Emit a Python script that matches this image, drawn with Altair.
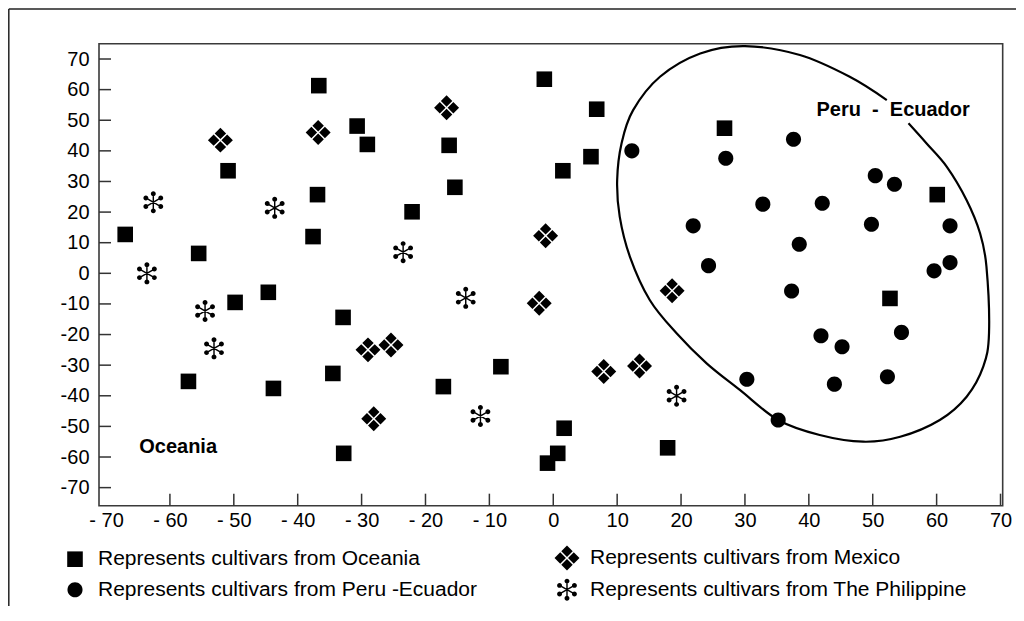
import math
import altair as alt
import pandas as pd

# ---------------- data ----------------
oceania_x = [-67.0, -55.5, -50.9, -49.8, -44.6, -57.1, -43.8, -36.7, -36.9, -37.6, -32.9,
             -34.5, -32.8, -30.7, -29.1, -22.1, -16.3, -15.4, -17.2, -8.2, -1.4, 6.8,
             5.9, 1.5, 1.7, 0.7, -0.9, 17.9, 26.8, 60.1, 52.7]
oceania_y = [12.7, 6.5, 33.5, -9.5, -6.2, -35.3, -37.6, 61.3, 25.7, 12.0, -14.4,
             -32.7, -58.8, 48.1, 42.1, 20.1, 41.8, 28.1, -37.0, -30.5, 63.4, 53.6,
             38.1, 33.5, -50.6, -58.8, -62.0, -57.0, 47.4, 25.7, -8.2]

peru_x = [12.3, 27.0, 37.6, 50.4, 53.4, 32.8, 42.1, 21.9, 49.8, 62.1, 38.5,
          24.3, 62.1, 59.6, 37.3, 41.9, 45.2, 54.5, 30.3, 44.0, 52.3, 35.2]
peru_y = [40.0, 37.6, 43.8, 31.9, 29.1, 22.6, 22.9, 15.5, 16.0, 15.5, 9.5,
          2.5, 3.5, 0.8, -5.8, -20.4, -24.0, -19.3, -34.6, -36.2, -33.8, -47.9]

mexico_x = [-52.1, -36.8, -16.7, -29.0, -25.4, -28.1, -1.2, -2.2, 18.6, 7.9, 13.5]
mexico_y = [43.5, 46.0, 54.1, -25.0, -23.4, -47.5, 12.3, -9.8, -5.7, -32.1, -30.3]

phil_x = [-62.6, -63.6, -54.5, -53.1, -43.6, -23.5, -13.7, -11.4, 19.3]
phil_y = [23.2, 0.0, -12.3, -24.5, 21.4, 6.9, -8.0, -46.6, -40.0]

# hand-drawn loop around the Peru - Ecuador group (open where the label sits)
curve_x = [55.6, 58.4, 61.6, 64.7, 66.8, 67.8, 68.2, 67.3, 64.7, 60.5, 54.3, 48.5,
           41.7, 35.2, 29.2, 24.0, 19.3, 15.1, 12.0, 10.4, 10.0, 10.7, 12.5, 16.7,
           23.0, 30.0, 38.6, 46.4, 52.2]
curve_y = [49.0, 42.5, 34.8, 23.9, 13.1, 2.2, -19.6, -30.5, -40.3, -47.9, -53.4, -55.0,
           -52.8, -47.9, -38.1, -29.4, -19.6, -8.7, 5.4, 18.5, 30.5, 42.6, 53.3, 64.2,
           71.8, 74.2, 71.3, 64.2, 56.6]

group_labels = ["Oceania", "Peru\u00a0 -\u00a0 Ecuador"]
group_label_x = [-64.8, 41.2]
group_label_y = [-56.6, 53.3]

# legend order: column 1 (Oceania, Peru -Ecuador), column 2 (Mexico, The Philippine)
legend_labels = ["Represents cultivars from Oceania",
                 "Represents cultivars from Peru -Ecuador",
                 "Represents cultivars from Mexico",
                 "Represents cultivars from The Philippine"]

x_ticks = [-70, -60, -50, -40, -30, -20, -10, 0, 10, 20, 30, 40, 50, 60, 70]
y_ticks = [-70, -60, -50, -40, -30, -20, -10, 0, 10, 20, 30, 40, 50, 60, 70]
x_inner_ticks = [-60, -50, -40, -30, -20, -10, 0, 10, 20, 30, 40, 50, 60, 70]

# ---------------- symbol shapes (unit box -1..1) ----------------
def _circle(cx, cy, r):
    return (f"M{cx - r:.3f},{cy:.3f}A{r},{r},0,1,0,{cx + r:.3f},{cy:.3f}"
            f"A{r},{r},0,1,0,{cx - r:.3f},{cy:.3f}Z")

square_path = "M-0.6,-0.6L0.6,-0.6L0.6,0.6L-0.6,0.6Z"
circle_path = _circle(0, 0, 0.58)

h = 0.44
diamond_path = ""
for cx, cy in [(0, -0.52), (0.52, 0), (0, 0.52), (-0.52, 0)]:
    diamond_path += f"M{cx},{cy - h}L{cx + h},{cy}L{cx},{cy + h}L{cx - h},{cy}Z"

L, w, rd = 0.66, 0.055, 0.19
aster_path = ""
for ang in [90, 30, 150]:
    a = math.radians(ang)
    dx, dy = math.cos(a), -math.sin(a)
    nx, ny = -dy, dx
    pts = [(-L * dx + w * nx, -L * dy + w * ny), (L * dx + w * nx, L * dy + w * ny),
           (L * dx - w * nx, L * dy - w * ny), (-L * dx - w * nx, -L * dy - w * ny)]
    aster_path += "M" + "L".join(f"{px:.3f},{py:.3f}" for px, py in pts) + "Z"
for ang in [90, 30, -30, -90, 210, 150]:
    a = math.radians(ang)
    aster_path += _circle(L * math.cos(a), -L * math.sin(a), rd)

shape_range = [square_path, circle_path, diamond_path, aster_path]

# ---------------- tables ----------------
pts = pd.concat([
    pd.DataFrame({"x": oceania_x, "y": oceania_y, "g": legend_labels[0]}),
    pd.DataFrame({"x": peru_x, "y": peru_y, "g": legend_labels[1]}),
    pd.DataFrame({"x": mexico_x, "y": mexico_y, "g": legend_labels[2]}),
    pd.DataFrame({"x": phil_x, "y": phil_y, "g": legend_labels[3]}),
], ignore_index=True)
curve = pd.DataFrame({"x": curve_x, "y": curve_y, "o": list(range(len(curve_x)))})
lab = pd.DataFrame({"x": group_label_x, "y": group_label_y, "t": group_labels})
xt = pd.DataFrame({"x": x_inner_ticks})
yt = pd.DataFrame({"y": y_ticks})
one = pd.DataFrame({"k": [0]})

W, H = 903.7, 462
FONT = "Liberation Sans"
xs = alt.Scale(domain=[-71.1, 70.34], nice=False, zero=False)
ys = alt.Scale(domain=[-75.9, 75.0], nice=False, zero=False)

x_axis = alt.Axis(
    title=None, values=x_ticks, grid=False, ticks=False, tickSize=0, domain=False,
    labelExpr="datum.value < 0 ? '- ' + toString(-datum.value) : toString(datum.value)",
    labelFont=FONT, labelFontSize=20, labelColor="black", labelPadding=5,
    labelFlush=False, labelOverlap=False, labelBound=False)
y_axis = alt.Axis(
    title=None, values=y_ticks, grid=False, ticks=False, tickSize=0, domain=False,
    labelExpr="toString(datum.value)",
    labelFont=FONT, labelFontSize=20, labelColor="black", labelPadding=10,
    labelFlush=False, labelOverlap=False, labelBound=False)

X = alt.X("x:Q", scale=xs, axis=x_axis)
Y = alt.Y("y:Q", scale=ys, axis=y_axis)

points = alt.Chart(pts).mark_point(
    filled=True, size=676, color="black", opacity=1, strokeWidth=0
).encode(
    x=X, y=Y,
    shape=alt.Shape("g:N", scale=alt.Scale(domain=legend_labels, range=shape_range),
                    legend=alt.Legend(
                        title=None, orient="none", legendX=-37, legendY=501,
                        columns=2, columnPadding=76, rowPadding=6, padding=0,
                        labelFont=FONT, labelFontSize=21, labelColor="black",
                        labelLimit=700, labelOffset=10, symbolSize=676,
                        symbolFillColor="black", symbolStrokeWidth=0)),
)

loop = alt.Chart(curve).mark_line(
    interpolate="cardinal", color="black", strokeWidth=2.2
).encode(x=X, y=Y, order="o:Q")

texts = alt.Chart(lab).mark_text(
    align="left", baseline="middle", font=FONT, fontSize=20, fontWeight="bold", color="black"
).encode(x=X, y=Y, text="t:N")

ytick_rules = alt.Chart(yt).mark_rule(color="#333333", strokeWidth=1.5).encode(
    y=Y, x=alt.value(0), x2=alt.value(12),
)
xtick_rules = alt.Chart(xt).mark_rule(color="#333333", strokeWidth=1.5).encode(
    x=X, y=alt.value(H - 12), y2=alt.value(H),
)

frame_top = alt.Chart(one).mark_rule(color="#222222", strokeWidth=1.5).encode(
    x=alt.value(-90.2), x2=alt.value(W + 60), y=alt.value(-34.7),
)
frame_left = alt.Chart(one).mark_rule(color="#222222", strokeWidth=1.5).encode(
    x=alt.value(-90.2), y=alt.value(-34.7), y2=alt.value(H + 200),
)

chart = alt.layer(
    points, loop, texts, ytick_rules, xtick_rules, frame_top, frame_left
).properties(
    width=W, height=H,
    autosize=alt.AutoSizeParams(type="none"),
    padding={"left": 91, "top": 35.7, "right": 13, "bottom": 100},
    background="white",
).configure_view(
    stroke="#3a3a3a", strokeWidth=1.6
)

chart.save("out.html", embed_options={"renderer": "svg", "actions": False})
